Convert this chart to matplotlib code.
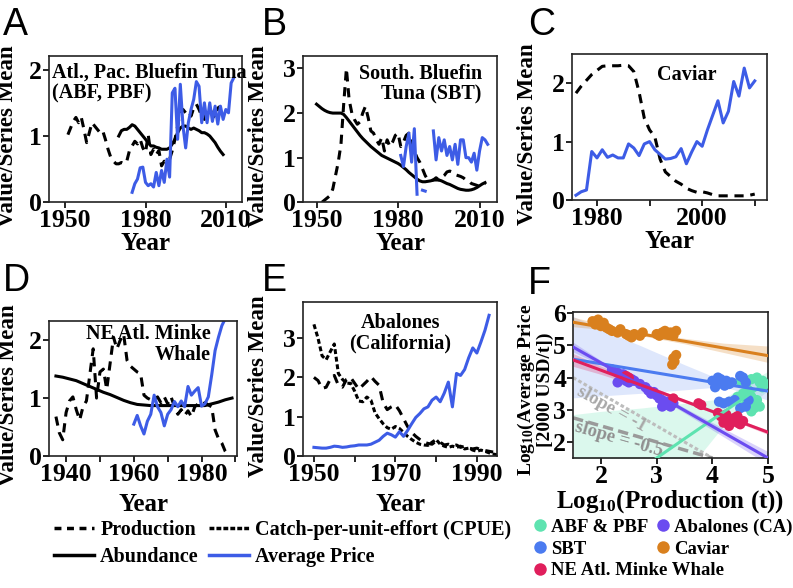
import numpy as np
import matplotlib
matplotlib.use("Agg")
import matplotlib.pyplot as plt
from matplotlib.lines import Line2D

plt.rcParams['font.family'] = 'Liberation Serif'
plt.rcParams['font.weight'] = 'bold'
plt.rcParams['mathtext.fontset'] = 'custom'
plt.rcParams['mathtext.rm'] = 'Liberation Serif:bold'
plt.rcParams['mathtext.it'] = 'Liberation Serif:bold'

BLUE = "#3D5CE6"
PROD_DASH = (3.0, 2.2)
CPUE_DASH = (1.6, 0.9)

# ── A: Atlantic / Pacific bluefin tuna ─────────────
a_prod_years = list(range(1951, 2009))
a_prod = [1.02, 1.12, 1.22, 1.28, 1.2, 1.28, 1.1, 0.9, 1.05, 1.2, 1.15, 1.1, 1.05, 1.08,
          0.95, 0.8, 0.68, 0.62, 0.58, 0.58, 0.6, 0.58, 0.62, 0.78, 0.85, 0.92, 0.88, 0.95,
          0.82, 0.75, 1.02, 0.72, 0.8, 0.72, 0.78, 0.55, 0.62, 0.6, 0.65, 0.78, 0.95, 1.15,
          1.38, 1.4, 1.35, 1.38, 1.3, 1.42, 1.48, 1.4, 1.3, 1.25, 1.38, 1.42, 1.32, 1.28,
          1.42, 1.45]
a_abun_years = list(range(1970, 2010))
a_abun = [1.0, 1.08, 1.1, 1.1, 1.13, 1.17, 1.15, 1.1, 1.05, 1.0, 0.95, 0.9, 0.85, 0.85,
          0.83, 0.82, 0.8, 0.8, 0.8, 0.82, 0.88, 0.95, 1.05, 1.12, 1.15, 1.15, 1.12, 1.1,
          1.12, 1.1, 1.08, 1.05, 1.05, 1.03, 1.0, 0.95, 0.9, 0.83, 0.77, 0.72]
a_price_years = list(range(1975, 2014))
a_price = [0.15, 0.28, 0.35, 0.52, 0.53, 0.3, 0.25, 0.28, 0.23, 0.45, 0.25, 0.48, 0.3,
           0.65, 0.38, 1.65, 1.72, 0.95, 1.78, 1.15, 0.82, 1.2, 1.4, 1.55, 1.82, 1.75,
           1.2, 1.5, 1.2, 1.5, 1.22, 1.45, 1.18, 1.45, 1.25, 1.4, 1.35, 1.8, 1.88]

# ── B: Southern bluefin tuna ───────────────────────
b_prod_years = list(range(1952, 2013))
b_prod = [0.0, 0.05, 0.1, 0.15, 0.3, 0.6, 0.9, 1.3, 2.2, 3.0, 2.3, 2.0, 1.85, 1.75, 1.8,
          2.0, 2.15, 1.9, 1.6, 1.55, 1.4, 1.3, 1.45, 1.15, 1.4, 1.25, 1.35, 1.5, 1.55,
          1.25, 1.35, 1.5, 1.55, 1.3, 1.15, 1.0, 0.9, 0.75, 0.6, 0.5, 0.48, 0.5, 0.55,
          0.5, 0.55, 0.6, 0.68, 0.7, 0.68, 0.62, 0.6, 0.58, 0.55, 0.5, 0.48, 0.42, 0.4,
          0.38, 0.35, 0.38, 0.42]
b_abun_years = list(range(1950, 2013))
b_abun = [2.2, 2.15, 2.1, 2.06, 2.03, 2.01, 2.0, 2.0, 2.0, 2.0, 1.97, 1.9, 1.82, 1.74,
          1.66, 1.58, 1.5, 1.43, 1.37, 1.31, 1.25, 1.2, 1.15, 1.1, 1.05, 1.02, 0.99, 0.96,
          0.93, 0.9, 0.87, 0.83, 0.78, 0.73, 0.67, 0.62, 0.57, 0.52, 0.48, 0.46, 0.46,
          0.47, 0.48, 0.5, 0.5, 0.5, 0.48, 0.45, 0.42, 0.4, 0.37, 0.34, 0.31, 0.29, 0.28,
          0.27, 0.27, 0.28, 0.3, 0.33, 0.37, 0.41, 0.44]
b_price_years = list(range(1981, 2014))
b_price = [1.05, 0.8, 1.25, 1.55, 0.9, 1.65, 0.18, np.nan, 0.27, 0.25, np.nan, np.nan,
           1.6, 0.95, 1.45, 1.15, 1.4, 1.05, 1.25, 0.95, 1.3, 0.85, 1.4, 1.4, 1.0, 1.0,
           0.9, 1.1, 0.72, 1.15, 1.45, 1.4, 1.3]

# ── C: Caviar ──────────────────────────────────────
c_years = list(range(1976, 2011))
c_prod = [1.83, 1.95, 2.05, 2.15, 2.22, 2.29, 2.3, 2.3, 2.3, 2.31, 2.3, 2.2, 1.85, 1.4,
          1.2, 1.08, 0.7, 0.48, 0.4, 0.32, 0.27, 0.2, 0.16, 0.13, 0.14, 0.12, 0.09, 0.07,
          0.07, 0.07, 0.07, 0.07, 0.07, 0.08, 0.1]
c_price = [0.08, 0.14, 0.17, 0.83, 0.72, 0.86, 0.73, 0.77, 0.72, 0.72, 0.96, 0.89, 0.76,
           0.96, 1.0, 0.86, 0.78, 0.7, 0.71, 0.74, 0.88, 0.62, 0.82, 1.0, 0.92, 1.2, 1.45,
           1.7, 1.32, 1.52, 2.03, 1.78, 2.26, 1.92, 2.04]

# ── D: NE Atlantic minke whale ─────────────────────
d_prod_years = list(range(1937, 1989))
d_prod = [0.68, 0.4, 0.28, 0.75, 0.95, 1.02, 0.8, 0.62, 0.85, 0.95, 1.4, 1.85, 1.0, 1.45,
          1.5, 1.15, 1.6, 2.05, 1.85, 2.0, 2.1, 1.65, 1.55, 1.5, 1.45, 1.42, 1.05, 1.0,
          0.97, 0.98, 1.02, 0.92, 1.02, 0.9, 1.02, 0.85, 0.72, 0.8, 0.7, 0.78, 0.68, 0.85,
          0.9, 0.88, 0.92, 0.88, 0.85, 0.45, 0.3, 0.22, 0.08, 0.0]
d_abun_years = list(range(1937, 1991, 2))
d_abun = [1.38, 1.36, 1.33, 1.3, 1.25, 1.2, 1.15, 1.1, 1.06, 1.01, 0.96, 0.92, 0.89,
          0.88, 0.87, 0.87, 0.87, 0.87, 0.87, 0.87, 0.87, 0.87, 0.87, 0.9, 0.93, 0.97,
          1.0]
d_price_years = list(range(1960, 1988))
d_price = [0.55, 0.7, 0.52, 0.38, 0.6, 0.72, 1.05, 0.85, 0.75, 0.52, 0.72, 0.8, 0.94,
           0.85, 0.95, 0.85, 1.2, 1.05, 1.12, 1.18, 0.86, 0.9, 1.02, 1.4, 1.82, 2.05,
           2.25, 2.37]

# ── E: Abalones (California) ───────────────────────
e_prod_years = list(range(1950, 1995))
e_prod = [2.0, 1.92, 1.72, 1.75, 1.95, 2.05, 1.8, 1.75, 1.95, 2.0, 1.85, 1.7, 1.8, 1.9,
          2.02, 1.9, 1.8, 1.35, 1.18, 1.25, 1.3, 1.15, 0.95, 0.75, 0.6, 0.5, 0.42, 0.35,
          0.32, 0.3, 0.38, 0.35, 0.28, 0.3, 0.26, 0.28, 0.22, 0.25, 0.2, 0.18, 0.2, 0.16,
          0.14, 0.12, 0.1]
e_cpue_years = list(range(1950, 1996))
e_cpue = [3.35, 3.0, 2.55, 2.45, 2.65, 2.85, 2.1, 1.95, 1.85, 1.85, 1.65, 1.4, 1.38, 1.5,
          1.42, 1.1, 0.95, 0.82, 0.72, 0.68, 0.75, 0.7, 0.6, 0.5, 0.42, 0.35, 0.3, 0.28,
          0.27, 0.35, 0.42, 0.3, 0.25, 0.22, 0.25, 0.22, 0.25, 0.18, 0.2, 0.15, 0.12,
          0.15, 0.12, 0.08, 0.05, 0.03]
e_price_years = list(range(1950, 1994))
e_price = [0.22, 0.21, 0.2, 0.2, 0.22, 0.25, 0.24, 0.22, 0.23, 0.25, 0.26, 0.28, 0.28,
           0.28, 0.3, 0.35, 0.4, 0.5, 0.58, 0.54, 0.48, 0.62, 0.5, 0.65, 0.82, 0.98, 1.08,
           1.2, 1.25, 1.42, 1.5, 1.38, 1.6, 1.88, 1.25, 2.1, 2.05, 2.2, 2.5, 2.75, 2.62,
           2.9, 3.2, 3.58]

# ── F: price vs production (log10) ─────────────────
abf_x = [4.5, 4.6, 4.7, 4.8, 4.9, 4.95, 4.55, 4.6, 4.65, 4.7, 4.75, 4.8, 4.85, 4.7,
         4.55, 4.65, 4.9, 4.75, 4.45, 4.85]
abf_y = [3.9, 3.8, 3.95, 4.0, 3.9, 3.8, 3.5, 3.35, 3.25, 3.4, 3.2, 3.3, 3.1, 2.95,
         3.1, 3.6, 3.7, 3.05, 3.4, 3.85]
sbt_x = [4.0, 4.05, 4.1, 4.1, 4.15, 4.2, 4.22, 4.25, 4.3, 4.35, 4.05, 4.5, 4.55, 4.6,
         4.12, 4.2, 4.3, 4.5, 4.6, 4.65, 4.4]
sbt_y = [3.9, 3.85, 4.0, 3.8, 3.95, 3.85, 3.75, 3.9, 3.8, 3.85, 3.7, 4.05, 4.0, 3.85,
         3.25, 3.2, 3.25, 3.05, 3.1, 3.3, 3.3]
minke_x = [3.75, 3.8, 4.1, 4.15, 4.2, 4.25, 4.3, 4.35, 4.4, 4.45, 4.5, 4.55, 4.2, 4.3,
           4.45, 3.3, 2.45, 2.5]
minke_y = [3.2, 3.15, 2.9, 2.8, 2.75, 2.85, 2.7, 2.65, 2.75, 2.6, 2.55, 2.65, 2.6, 2.5,
           2.8, 3.35, 4.05, 4.0]
abal_x = [2.2, 2.3, 2.4, 2.45, 2.5, 2.55, 2.6, 2.7, 2.8, 2.85, 2.9, 3.0, 3.05, 3.1,
          3.15, 3.2, 3.25, 3.3, 2.95, 3.1, 3.2, 2.3]
abal_y = [4.25, 4.15, 4.1, 3.9, 3.85, 3.95, 3.9, 3.8, 3.7, 3.6, 3.5, 3.45, 3.35, 3.3,
          3.2, 3.15, 3.1, 3.2, 3.55, 3.1, 3.25, 3.85]
cav_x = [1.85, 1.9, 1.95, 2.0, 2.05, 2.1, 2.15, 2.2, 2.3, 2.35, 2.45, 2.5, 2.55, 2.6,
         2.7, 2.75, 3.0, 3.05, 3.1, 3.15, 3.2, 3.25, 3.3, 3.35, 3.3, 3.32, 3.28, 3.35]
cav_y = [5.75, 5.65, 5.8, 5.6, 5.7, 5.55, 5.5, 5.45, 5.4, 5.5, 5.35, 5.3, 5.25, 5.35,
         5.3, 5.4, 5.35, 5.3, 5.4, 5.45, 5.35, 5.4, 5.3, 5.45, 4.6, 4.5, 4.4, 4.7]

fit_x = [1.5, 2.0, 2.7, 3.5, 4.2, 5.0]
cav_fit = [5.72, 5.57, 5.36, 5.13, 4.92, 4.68]
cav_lo = [5.58, 5.5, 5.31, 5.05, 4.78, 4.47]
cav_hi = [5.88, 5.66, 5.41, 5.22, 5.07, 4.98]
sbt_fit = [4.57, 4.43, 4.23, 4.0, 3.8, 3.58]
sbt_lo = [3.37, 3.43, 3.51, 3.62, 3.72, 3.3]
sbt_hi = [5.9, 5.5, 5.0, 4.4, 3.9, 4.0]
abal_fit = [4.95, 4.46, 3.77, 2.98, 2.29, 1.5]
abal_lo = [4.8, 4.39, 3.73, 2.9, 2.16, 1.3]
abal_hi = [5.1, 4.53, 3.81, 3.06, 2.42, 1.7]
minke_fit = [4.55, 4.23, 3.78, 3.27, 2.82, 2.3]
minke_lo = [4.35, 4.1, 3.71, 3.22, 2.78, 2.23]
minke_hi = [4.75, 4.36, 3.85, 3.32, 2.86, 2.37]
abf_fit = [-0.28, 0.31, 1.14, 2.1, 2.93, 3.88]
abf_lo = [-3.4, -2.3, -0.8, 1.0, 2.5, 3.6]
abf_hi = [2.85, 2.95, 3.05, 3.2, 3.35, 4.2]

ref_x = [1.5, 4.0]
ref_slope1 = [4.0, 1.5]
ref_slope05 = [2.75, 1.5]

C_ABF = "#5EE3B0"
C_ABAL = "#6B4CF0"
C_SBT = "#4B7BF0"
C_CAV = "#D9801E"
C_MINKE = "#E01F5C"

TICK_FS = 18.5
NOTE_FS = 14.5


def style(ax, xlim, ylim, xticks, yticks, minor=None):
    ax.set_xlim(*xlim)
    ax.set_ylim(*ylim)
    ax.set_xticks(xticks)
    ax.set_yticks(yticks)
    if minor is not None:
        ax.set_xticks(minor, minor=True)
    ax.tick_params(which='both', direction='out', length=4, width=1.2,
                   labelsize=TICK_FS, pad=1)
    for s in ax.spines.values():
        s.set_linewidth(1.2)
        s.set_color("#222222")


def series_axes(rect, ylabel_x=-0.16, xpad=0):
    ax = fig.add_axes(rect)
    ax.set_ylabel("Value/Series Mean", fontsize=16.5, fontweight='bold')
    ax.yaxis.set_label_coords(ylabel_x, 0.45)
    ax.set_xlabel("Year", fontsize=18, fontweight='bold', labelpad=xpad)
    return ax


fig = plt.figure(figsize=(7.93, 5.88), dpi=100)
lw = 2.2

# A
ax = series_axes([0.062, 0.656, 0.243, 0.248])
ax.plot(a_prod_years, a_prod, color='black', lw=lw, dashes=PROD_DASH)
ax.plot(a_abun_years, a_abun, color='black', lw=lw)
ax.plot(a_price_years, a_price, color=BLUE, lw=lw)
style(ax, (1944, 2016), (0, 2.2), [1950, 1980, 2010], [0, 1, 2])
ax.text(0.015, 0.955, "Atl., Pac. Bluefin Tuna\n(ABF, PBF)", transform=ax.transAxes,
        ha='left', va='top', fontsize=NOTE_FS, linespacing=1.0)

# B
ax = series_axes([0.382, 0.656, 0.245, 0.248], ylabel_x=-0.175)
ax.plot(b_prod_years, b_prod, color='black', lw=lw, dashes=PROD_DASH)
ax.plot(b_abun_years, b_abun, color='black', lw=lw)
ax.plot(b_price_years, b_price, color=BLUE, lw=lw)
style(ax, (1945, 2016.5), (0, 3.27), [1950, 1980, 2010], [0, 1, 2, 3])
ax.text(0.92, 0.95, "South. Bluefin\nTuna (SBT)", transform=ax.transAxes,
        ha='right', va='top', fontsize=NOTE_FS, linespacing=1.05)

# C
ax = series_axes([0.721, 0.66, 0.246, 0.248], ylabel_x=-0.175)
ax.plot(c_years, c_prod, color='black', lw=lw, dashes=PROD_DASH)
ax.plot(c_years, c_price, color=BLUE, lw=lw)
style(ax, (1975.2, 2012.3), (0, 2.5), [1980, 2000], [0, 1, 2],
      minor=[1990, 2010])
ax.text(0.59, 0.86, "Caviar", transform=ax.transAxes, ha='center', va='center',
        fontsize=NOTE_FS)

# D
ax = series_axes([0.062, 0.2245, 0.237, 0.2296], xpad=5)
ax.plot(d_prod_years, d_prod, color='black', lw=lw, dashes=PROD_DASH)
ax.plot(d_abun_years, d_abun, color='black', lw=lw)
ax.plot(d_price_years, d_price, color=BLUE, lw=lw)
style(ax, (1935, 1990.5), (0, 2.33), [1940, 1960, 1980], [0, 1, 2],
      minor=[1950, 1970, 1990])
ax.text(0.86, 0.975, "NE Atl. Minke\nWhale", transform=ax.transAxes,
        ha='right', va='top', fontsize=NOTE_FS, linespacing=1.05)

# E
ax = series_axes([0.382, 0.2245, 0.245, 0.262], ylabel_x=-0.175, xpad=5)
ax.plot(e_prod_years, e_prod, color='black', lw=lw, dashes=PROD_DASH)
ax.plot(e_cpue_years, e_cpue, color='black', lw=lw, dashes=CPUE_DASH)
ax.plot(e_price_years, e_price, color=BLUE, lw=lw)
style(ax, (1947.3, 1995), (0, 3.92), [1950, 1970, 1990], [0, 1, 2, 3],
      minor=[1960, 1980])
ax.text(0.5, 0.93, "Abalones\n(California)", transform=ax.transAxes,
        ha='center', va='top', fontsize=NOTE_FS, linespacing=1.05)

# F
ax = fig.add_axes([0.7226, 0.221, 0.246, 0.248])
bands = [(abf_lo, abf_hi, C_ABF, 0.22), (sbt_lo, sbt_hi, C_SBT, 0.18),
         (abal_lo, abal_hi, C_ABAL, 0.25), (minke_lo, minke_hi, C_MINKE, 0.25),
         (cav_lo, cav_hi, C_CAV, 0.25)]
for lo, hi, col, al in bands:
    ax.fill_between(fit_x, lo, hi, color=col, alpha=al, lw=0, zorder=1)
ax.plot(ref_x, ref_slope1, color="#BDBDBD", lw=2.2, dashes=(1.2, 0.8), zorder=2)
ax.plot(ref_x, ref_slope05, color="#9A9A9A", lw=2.5, dashes=(3, 1.5), zorder=2)
ax.text(2.2, 3.02, "slope = -1", color="#A8A8A8", fontsize=13.5, rotation=-29,
        ha='center', va='center', zorder=2)
ax.text(2.32, 2.07, "slope = -0.5", color="#909090", fontsize=13.5, rotation=-16,
        ha='center', va='center', zorder=2)
pts = [(abf_x, abf_y, C_ABF), (sbt_x, sbt_y, C_SBT), (abal_x, abal_y, C_ABAL),
       (minke_x, minke_y, C_MINKE), (cav_x, cav_y, C_CAV)]
for xs, ys, col in pts:
    ax.scatter(xs, ys, s=55, color=col, edgecolors='none', zorder=3)
for fy, col in [(abf_fit, C_ABF), (sbt_fit, C_SBT), (abal_fit, C_ABAL),
                (minke_fit, C_MINKE), (cav_fit, C_CAV)]:
    ax.plot(fit_x, fy, color=col, lw=2.2, zorder=4)
style(ax, (1.5, 5.0), (1.5, 6.03), [2, 3, 4, 5], [2, 3, 4, 5, 6])
ax.set_xlabel("Log$_{10}$(Production (t))", fontsize=18, fontweight='bold', labelpad=0)
ax.set_ylabel("Log$_{10}$(Average Price\n[2000 USD/t])", fontsize=14,
              fontweight='bold', linespacing=0.95)
ax.yaxis.set_label_coords(-0.1, 0.47)

# panel letters
for lbl, x, y in [("A", 0.004, 0.94), ("B", 0.33, 0.94), ("C", 0.666, 0.94),
                  ("D", 0.004, 0.505), ("E", 0.33, 0.505), ("F", 0.666, 0.50)]:
    fig.text(x, y, lbl, fontsize=27, fontweight='normal', family='Liberation Sans')

# legends
line_handles = [
    Line2D([], [], color='black', lw=2.5, dashes=(2.0, 1.6)),
    Line2D([], [], color='black', lw=2.5),
    Line2D([], [], color='black', lw=2.5, dashes=(1.4, 0.6)),
    Line2D([], [], color=BLUE, lw=2.5),
]
line_labels = ["Production", "Abundance", "Catch-per-unit-effort (CPUE)", "Average Price"]
fig.legend(line_handles, line_labels, loc='upper left', bbox_to_anchor=(0.068, 0.116),
           ncol=2, frameon=False, fontsize=14.5, handlelength=2.0, handletextpad=0.3,
           columnspacing=0.5, labelspacing=0.38, borderpad=0, borderaxespad=0)

sp_names_1 = ["ABF & PBF", "SBT", "NE Atl. Minke Whale"]
sp_cols_1 = [C_ABF, C_SBT, C_MINKE]
sp_names_2 = ["Abalones (CA)", "Caviar"]
sp_cols_2 = [C_ABAL, C_CAV]
for names, cols, x0 in [(sp_names_1, sp_cols_1, 0.674), (sp_names_2, sp_cols_2, 0.829)]:
    hs = [Line2D([], [], ls='none', marker='o', markersize=9, color=c,
                 markeredgewidth=0) for c in cols]
    leg = fig.legend(hs, names, loc='upper left', bbox_to_anchor=(x0, 0.118),
                     frameon=False, fontsize=13.5, handlelength=0.6, handletextpad=0.3,
                     labelspacing=0.25, borderpad=0, borderaxespad=0)

fig.savefig("out.png", dpi=100)
